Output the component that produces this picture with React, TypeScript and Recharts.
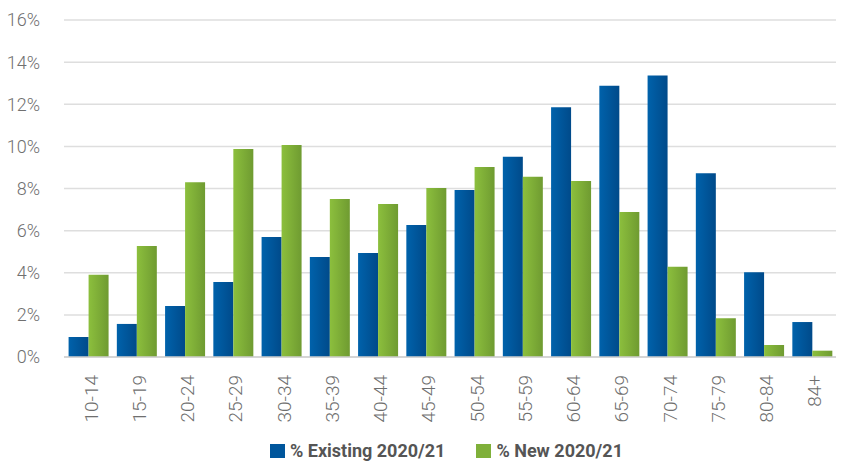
import { BarChart, Bar, XAxis, YAxis, CartesianGrid, Legend } from "recharts";

const ageBands = [
  "10-14", "15-19", "20-24", "25-29", "30-34", "35-39", "40-44", "45-49",
  "50-54", "55-59", "60-64", "65-69", "70-74", "75-79", "80-84", "84+",
];

const existing = [
  0.95, 1.57, 2.42, 3.56, 5.7, 4.75, 4.94, 6.27,
  7.93, 9.51, 11.86, 12.88, 13.36, 8.72, 4.02, 1.66,
];

const newcomers = [
  3.9, 5.27, 8.3, 9.88, 10.07, 7.5, 7.26, 8.02,
  9.02, 8.56, 8.36, 6.88, 4.29, 1.84, 0.57, 0.3,
];

const yTicks = [0, 2, 4, 6, 8, 10, 12, 14, 16];

const seriesNames = ["% Existing 2020/21", "% New 2020/21"];

const data = ageBands.map((band, i) => ({
  band,
  existing: existing[i],
  newcomers: newcomers[i],
}));

const FONT = "Roboto, 'Noto Sans', sans-serif";

function AgeTick(props: any) {
  const { x, payload } = props;
  const tx = x + 3;
  const ty = 375;
  return (
    <text
      x={tx}
      y={ty}
      transform={`rotate(-90, ${tx}, ${ty})`}
      textAnchor="end"
      dominantBaseline="central"
      fill="#6f6f6f"
      fontSize={19}
      fontFamily={FONT}
      fontWeight={300}
    >
      {payload.value}
    </text>
  );
}

function LegendBox() {
  const items = [
    { name: seriesNames[0], color: "#00569c" },
    { name: seriesNames[1], color: "#7fb03a" },
  ];
  return (
    <div style={{ display: "flex", alignItems: "center", fontFamily: FONT }}>
      {items.map((it) => (
        <div
          key={it.name}
          style={{ display: "flex", alignItems: "center", marginRight: 31 }}
        >
          <span
            style={{
              display: "inline-block",
              width: 15,
              height: 14,
              background: it.color,
              marginRight: 5,
            }}
          />
          <span style={{ fontSize: 18, fontWeight: 700, color: "#555" }}>
            {it.name}
          </span>
        </div>
      ))}
    </div>
  );
}

export default function App() {
  return (
    <div style={{ position: "absolute", left: 0, top: 0 }}>
      <BarChart
        width={841}
        height={464}
        data={data}
        margin={{ top: 20, right: 5, left: 0, bottom: 0 }}
        barCategoryGap="9.5%"
        barGap={0}
      >
        <defs>
          <linearGradient id="blueFill" x1="0" y1="0" x2="1" y2="0">
            <stop offset="0%" stopColor="#0062ab" />
            <stop offset="100%" stopColor="#004a8a" />
          </linearGradient>
          <linearGradient id="greenFill" x1="0" y1="0" x2="1" y2="0">
            <stop offset="0%" stopColor="#8cbf3d" />
            <stop offset="100%" stopColor="#6f9b31" />
          </linearGradient>
        </defs>
        <CartesianGrid vertical={false} stroke="#dedede" strokeWidth={1.5} />
        <XAxis
          dataKey="band"
          interval={0}
          height={70}
          tickLine={false}
          axisLine={{ stroke: "#cfcfcf", strokeWidth: 1.5 }}
          tick={<AgeTick />}
        />
        <YAxis
          width={64}
          domain={[0, 16]}
          ticks={yTicks}
          tickFormatter={(v: number) => `${v}%`}
          axisLine={false}
          tickLine={false}
          tickMargin={18}
          tick={{ fill: "#707070", fontSize: 18, fontFamily: FONT, fontWeight: 300 }}
        />
        <Legend
          verticalAlign="bottom"
          height={37}
          wrapperStyle={{ left: 270, top: 440, width: 420 }}
          content={() => <LegendBox />}
        />
        <Bar
          dataKey="existing"
          name={seriesNames[0]}
          fill="url(#blueFill)"
          isAnimationActive={false}
        />
        <Bar
          dataKey="newcomers"
          name={seriesNames[1]}
          fill="url(#greenFill)"
          isAnimationActive={false}
        />
      </BarChart>
    </div>
  );
}
